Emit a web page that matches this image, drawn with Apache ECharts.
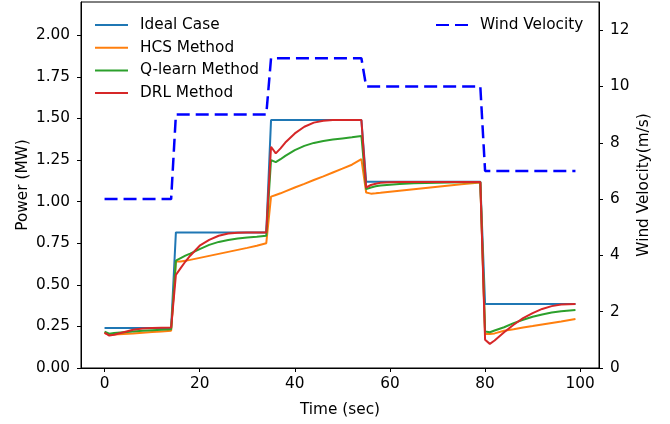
<!DOCTYPE html>
<html>
<head>
<meta charset="utf-8">
<script src="https://cdn.jsdelivr.net/npm/echarts@6/dist/echarts.min.js"></script>
<style>
    html, body { margin: 0; padding: 0; background: #fff; }
    #chart { width: 670px; height: 424px; }
</style>
</head>
<body>
<div id="chart"></div>
<script>
// sample times (sec) shared by the power curves
let time = [0, 1, 2, 4, 6, 8, 10, 12, 14,
    15, 16, 17, 18, 20, 22, 24, 26, 28, 30, 32, 34,
    35, 36, 37, 38, 40, 42, 44, 46, 48, 50, 52, 54,
    55, 56, 57, 58, 60, 62, 65, 70, 75, 79,
    80, 81, 82, 84, 86, 88, 90, 92, 94, 96, 99];

let idealCase = [0.24, 0.24, 0.24, 0.24, 0.24, 0.24, 0.24, 0.24, 0.24,
    0.815, 0.815, 0.815, 0.815, 0.815, 0.815, 0.815, 0.815, 0.815, 0.815, 0.815, 0.815,
    1.49, 1.49, 1.49, 1.49, 1.49, 1.49, 1.49, 1.49, 1.49, 1.49, 1.49, 1.49,
    1.12, 1.12, 1.12, 1.12, 1.12, 1.12, 1.12, 1.12, 1.12, 1.12,
    0.385, 0.385, 0.385, 0.385, 0.385, 0.385, 0.385, 0.385, 0.385, 0.385, 0.385];

let hcsMethod = [0.21, 0.2, 0.202, 0.205, 0.208, 0.212, 0.216, 0.22, 0.224,
    0.64, 0.64, 0.645, 0.65, 0.662, 0.674, 0.686, 0.698, 0.71, 0.722, 0.735, 0.75,
    1.03, 1.04, 1.05, 1.062, 1.085, 1.107, 1.13, 1.152, 1.175, 1.198, 1.222, 1.255,
    1.055, 1.048, 1.05, 1.053, 1.06, 1.066, 1.075, 1.09, 1.105, 1.115,
    0.205, 0.205, 0.208, 0.224, 0.233, 0.243, 0.252, 0.262, 0.271, 0.28, 0.295];

let qlearnMethod = [0.218, 0.206, 0.21, 0.215, 0.22, 0.224, 0.227, 0.23, 0.233,
    0.645, 0.66, 0.675, 0.688, 0.715, 0.74, 0.758, 0.77, 0.779, 0.785, 0.789, 0.795,
    1.25, 1.237, 1.255, 1.275, 1.31, 1.335, 1.353, 1.365, 1.373, 1.38, 1.387, 1.395,
    1.075, 1.085, 1.092, 1.097, 1.102, 1.106, 1.11, 1.113, 1.116, 1.118,
    0.22, 0.215, 0.225, 0.245, 0.27, 0.29, 0.308, 0.322, 0.333, 0.341, 0.349];

let drlMethod = [0.213, 0.195, 0.2, 0.215, 0.23, 0.238, 0.241, 0.242, 0.243,
    0.56, 0.6, 0.64, 0.675, 0.735, 0.77, 0.795, 0.808, 0.813, 0.815, 0.815, 0.815,
    1.33, 1.29, 1.32, 1.355, 1.41, 1.45, 1.475, 1.486, 1.49, 1.49, 1.49, 1.49,
    1.085, 1.1, 1.108, 1.113, 1.117, 1.118, 1.118, 1.118, 1.118, 1.118,
    0.17, 0.145, 0.165, 0.215, 0.26, 0.3, 0.33, 0.355, 0.372, 0.382, 0.385];

let windTime = [0, 14, 15, 34, 35, 54, 55, 79, 80, 99];
let windVelocity = [6, 6, 9, 9, 11, 11, 10, 10, 7, 7];

let timeTicks = [0, 20, 40, 60, 80, 100];
let powerTicks = [0, 0.25, 0.5, 0.75, 1, 1.25, 1.5, 1.75, 2];
let windTicks = [0, 2, 4, 6, 8, 10, 12];

let fontName = 'DejaVu Sans';
let fontSize = 15.3;

function pairUp(xs, ys) {
    let out = [];
    for (let i = 0; i < xs.length; i++) {
        out.push([xs[i], ys[i]]);
    }
    return out;
}

function powerSeries(name, values, color) {
    return {
        name: name,
        type: 'line',
        yAxisIndex: 0,
        data: pairUp(time, values),
        symbol: 'none',
        lineStyle: {color: color, width: 2},
        itemStyle: {color: color}
    };
}

let myChart = echarts.init(document.getElementById('chart'), null, {renderer: 'canvas'});

let axisText = {color: '#000', fontFamily: fontName, fontSize: fontSize};
let legendText = {color: '#000', fontFamily: fontName, fontSize: fontSize, lineHeight: 14, padding: [0, 0, 0, 7]};

let option = {
    animation: false,
    backgroundColor: '#fff',
    textStyle: {fontFamily: fontName, color: '#000'},
    grid: {
        left: 81, right: 71, top: 2, bottom: 56,
        show: true, borderColor: '#000', borderWidth: 1,
        outerBoundsMode: 'none'
    },
    legend: [{
        data: ['Ideal Case', 'HCS Method', 'Q-learn Method', 'DRL Method'],
        orient: 'vertical',
        left: 89,
        top: 12.5,
        itemWidth: 33,
        itemHeight: 14,
        itemGap: 7.7,
        itemStyle: {opacity: 0},
        textStyle: legendText
    }, {
        data: ['Wind Velocity'],
        orient: 'vertical',
        left: 430,
        top: 12.5,
        itemWidth: 32,
        itemHeight: 14,
        itemStyle: {opacity: 0},
        textStyle: legendText
    }],
    xAxis: {
        type: 'value',
        min: -4.95,
        max: 103.95,
        name: 'Time (sec)',
        nameLocation: 'middle',
        nameGap: 34.5,
        nameMoveOverlap: false,
        nameTextStyle: axisText,
        splitLine: {show: false},
        axisLine: {onZero: false, lineStyle: {color: '#000', width: 1}},
        axisTick: {customValues: timeTicks, length: 4, lineStyle: {color: '#000'}},
        axisLabel: Object.assign({customValues: timeTicks, margin: 9}, axisText)
    },
    yAxis: [{
        type: 'value',
        min: 0,
        max: 2.2,
        name: 'Power (MW)',
        nameLocation: 'middle',
        nameRotate: 90,
        nameGap: 50.5,
        nameMoveOverlap: false,
        nameTextStyle: axisText,
        splitLine: {show: false},
        axisLine: {show: true, onZero: false, lineStyle: {color: '#000', width: 1}},
        axisTick: {show: true, customValues: powerTicks, length: 4, lineStyle: {color: '#000'}},
        axisLabel: Object.assign({
            customValues: powerTicks,
            margin: 11,
            formatter: function (v) { return v.toFixed(2); }
        }, axisText)
    }, {
        type: 'value',
        position: 'right',
        min: 0,
        max: 13,
        name: 'Wind Velocity(m/s)',
        nameLocation: 'middle',
        nameRotate: 90,
        nameGap: 38,
        nameMoveOverlap: false,
        nameTextStyle: axisText,
        splitLine: {show: false},
        axisLine: {show: true, onZero: false, lineStyle: {color: '#000', width: 1}},
        axisTick: {show: true, customValues: windTicks, length: 4, lineStyle: {color: '#000'}},
        axisLabel: Object.assign({customValues: windTicks, margin: 11}, axisText)
    }],
    series: [
        powerSeries('Ideal Case', idealCase, '#1f77b4'),
        powerSeries('HCS Method', hcsMethod, '#ff7f0e'),
        powerSeries('Q-learn Method', qlearnMethod, '#2ca02c'),
        powerSeries('DRL Method', drlMethod, '#d62728'),
        {
            name: 'Wind Velocity',
            type: 'line',
            yAxisIndex: 1,
            data: pairUp(windTime, windVelocity),
            symbol: 'none',
            lineStyle: {color: '#0000ff', width: 2.5, type: [13, 6]},
            itemStyle: {color: '#0000ff'}
        }
    ]
};

myChart.setOption(option);
</script>
</body>
</html>
